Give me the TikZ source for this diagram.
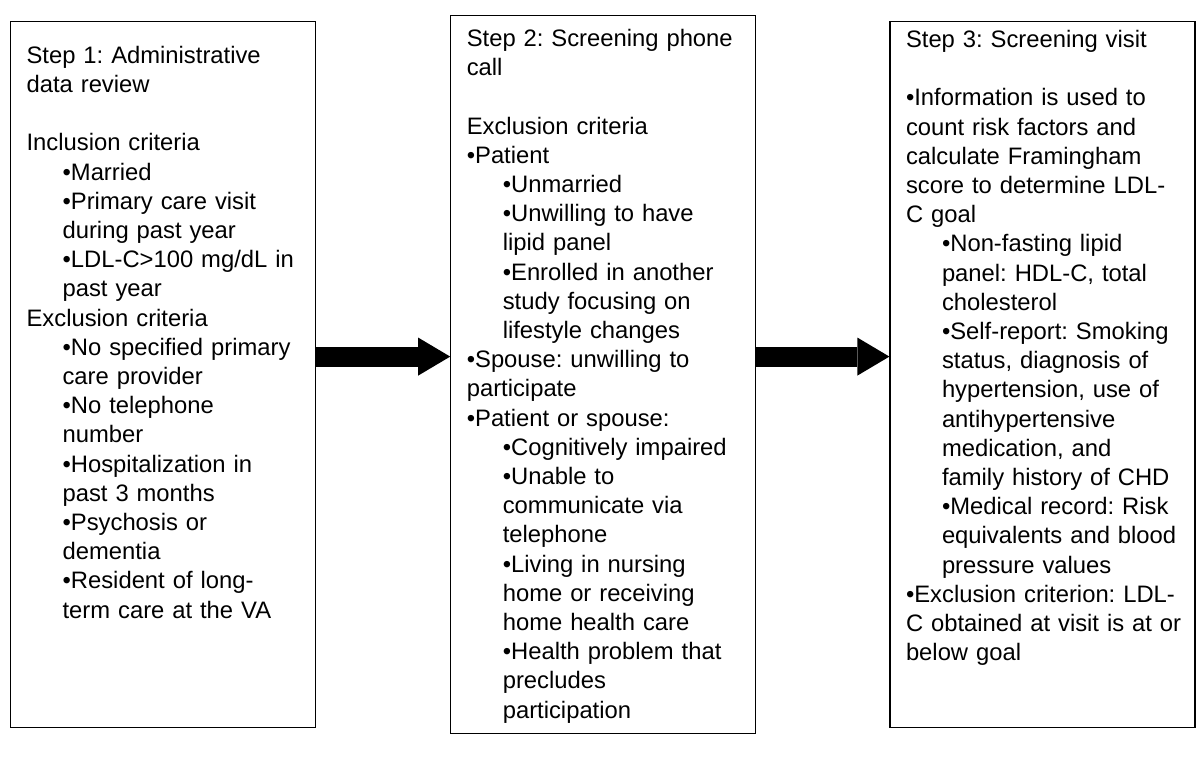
\documentclass[tikz,border=0pt]{standalone}
\usepackage{fontspec}
\setmainfont{Liberation Sans}
\frenchspacing
\usetikzlibrary{positioning}
\usetikzlibrary{arrows.meta}
\newcommand{\subind}{\hspace*{36pt}}
\tikzset{
        % Step boxes
        stepbox/.style={draw=black, line width=1.2pt, rectangle, align=left, inner xsep=16pt, inner ysep=0pt,
                text width=273pt, font=\fontsize{23.8pt}{29.2pt}\selectfont,
                execute at begin node={\rightskip=0pt plus 1fil minus 40pt}},
        % Block arrows between steps
        bigarrow/.style={draw=black, line width=20pt, -{Triangle[length=32pt, width=38pt, line width=0pt]}}
}
\begin{document}
\begin{tikzpicture}[x=1pt, y=-1pt]
        \useasboundingbox (0,0) rectangle (1200,775);
        \node[stepbox, anchor=north west, text height=41.7pt, text depth=664.3pt] (s1) at (10,21) {
                Step 1: Administrative\\
                data review\\[29.2pt]
                Inclusion criteria\\
                \subind •Married\\
                \subind •Primary care visit\\
                \subind during past year\\
                \subind •LDL-C>100 mg/dL in\\
                \subind past year\\
                Exclusion criteria\\
                \subind •No specified primary\\
                \subind care provider\\
                \subind •No telephone\\
                \subind number\\
                \subind •Hospitalization in\\
                \subind past 3 months\\
                \subind •Psychosis or\\
                \subind dementia\\
                \subind •Resident of long-\\
                \subind term care at the VA};
        \node[stepbox, right=134pt of s1, text height=31pt, text depth=687pt] (s2) {
                Step 2: Screening phone\\
                call\\[29.2pt]
                Exclusion criteria\\
                •Patient\\
                \subind •Unmarried\\
                \subind •Unwilling to have\\
                \subind lipid panel\\
                \subind •Enrolled in another\\
                \subind study focusing on\\
                \subind lifestyle changes\\
                •Spouse: unwilling to\\
                participate\\
                •Patient or spouse:\\
                \subind •Cognitively impaired\\
                \subind •Unable to\\
                \subind communicate via\\
                \subind telephone\\
                \subind •Living in nursing\\
                \subind home or receiving\\
                \subind home health care\\
                \subind •Health problem that\\
                \subind precludes\\
                \subind participation};
        \node[stepbox, right=133pt of s2, text height=26pt, text depth=680.3pt] (s3) {
                Step 3: Screening visit\\[29.2pt]
                •Information is used to\\
                count risk factors and\\
                calculate Framingham\\
                score to determine LDL-\\
                C goal\\
                \subind •Non-fasting lipid\\
                \subind panel: HDL-C, total\\
                \subind cholesterol\\
                \subind •Self-report: Smoking\\
                \subind status, diagnosis of\\
                \subind hypertension, use of\\
                \subind antihypertensive\\
                \subind medication, and\\
                \subind family history of CHD\\
                \subind •Medical record: Risk\\
                \subind equivalents and blood\\
                \subind pressure values\\
                •Exclusion criterion: LDL-\\
                C obtained at visit is at or\\
                below goal};
        % arrows
        \draw[bigarrow] ([yshift=18pt]s1.east) -- ([yshift=18pt]s2.west);
        \draw[bigarrow] ([yshift=18pt]s2.east) -- ([yshift=18pt]s3.west);
\end{tikzpicture}
\end{document}
